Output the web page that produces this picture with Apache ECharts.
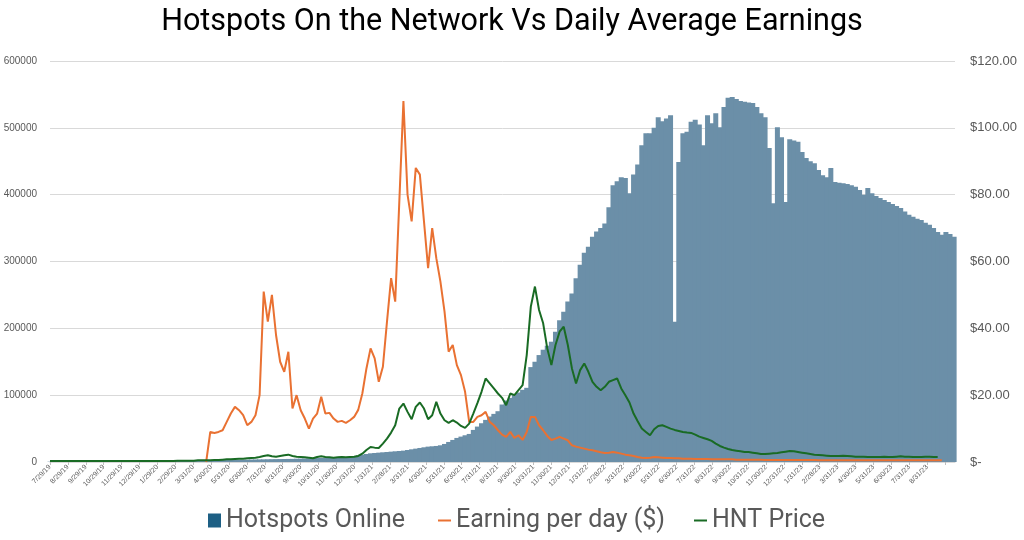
<!DOCTYPE html>
<html><head><meta charset="utf-8">
<script src="https://cdn.jsdelivr.net/npm/echarts@6/dist/echarts.min.js"></script>
<style>html,body{margin:0;padding:0;background:#fff}#c{width:1024px;height:540px}</style>
</head><body><div id="c"></div>
<script>
const chartTitle = 'Hotspots On the Network Vs Daily Average Earnings';
const seriesNames = ['Hotspots Online', 'Earning per day ($)', 'HNT Price'];
const tickLabels = ['7/29/19','8/29/19','9/29/19','10/29/19','11/29/19','12/29/19','1/29/20','2/29/20','3/31/20','4/30/20','5/31/20','6/30/20','7/31/20','8/31/20','9/30/20','10/31/20','11/30/20','12/31/20','1/31/21','2/28/21','3/31/21','4/30/21','5/31/21','6/30/21','7/31/21','8/31/21','9/30/21','10/31/21','11/30/21','12/31/21','1/31/22','2/28/22','3/31/22','4/30/22','5/31/22','6/30/22','7/31/22','8/31/22','9/30/22','10/31/22','11/30/22','12/31/22','1/31/23','2/28/23','3/31/23','4/30/23','5/31/23','6/30/23','7/31/23','8/31/23'];
const axisStart = '2019-07-29';
const stepDays = 7; // one sample per week

// Hotspots online (weekly), from 2019-07-29
const hotspotsStart = '2019-07-29';
const hotspots = [
  500,600,700,800,900, 1000,1000,1100,1100,1200, 1200,1300,1300,1400,1400, 1500,1500,1600,1600,1700,
  1700,1800,1800,1900,1900,2000,
  2000,2100,2100,2200,2200,2300,2400,2400,2500,2600,2700,2800,2900,
  3000,3000,3100,3100,3200,3200,3300,3400,3500,3600,3700,3800,3900,
  4000,4100,4200,4300,4400,4500,4600,4700,4900,5100,5300,5500,5700,5900,
  6000,6200,6400,6600,6800,7000,
  7500,8000,9000,10000,11000,12000,13000,
  13500,14000,14500,15000,15500,16000,16500,17000,18000,
  19000,20000,21000,22000,23000,23500,24000,25000,
  27000,30000,33000,36000,
  38000,40000,42000,
  48000,53000,58000,63000,
  68000,72000,76000,86000,
  92000,96000,100000,104000,108000,111000,
  142000,150000,160000,
  168000,174000,180000,195000,212000,
  225000,240000,252000,275000,295000,
  313000,322000,337000,345000,350000,357000,
  381000,414000,420000,426000,425000,402000,
  430000,445000,474000,492000,492000,500000,
  516000,510000,514000,519000,
  210000,
  449000,492000,494000,509000,512000,505000,
  474000,519000,507000,522000,501000,531000,
  545000,546000,543000,540000,539000,538000,
  537000,531000,522000,516000,470000,387000,501000,486000,389000,483000,
  481000,479000,464000,455000,450000,447000,437000,429000,426000,440000,
  419000,418000,417000,416000,414000,412000,407000,400000,410000,402000,
  398000,395000,392000,389000,386000,383000,380000,375000,370000,367000,
  364000,362000,358000,355000,350000,344000,340000,344000,341000,337000
];

// Earning per day ($), weekly, from 2020-04-20
const earningsStart = '2020-04-20';
const earnings = [
  0,
  9.0,8.7,9.0,9.5,12.0,14.5,16.5,15.5,14.0,11.0,12.0,14.0,
  20.0,51.0,42.0,50.0,38.0,30.0,27.0,33.0,16.0,20.0,
  15.5,13.0,10.0,13.0,14.5,19.5,14.5,14.7,13.0,12.0,
  12.3,11.7,12.5,13.5,15.6,20.5,28.0,34.0,31.0,24.0,
  28.5,42.0,55.0,48.0,78.0,108.0,80.0,72.0,88.0,86.0,
  72.0,58.0,70.0,61.0,54.0,45.0,33.0,35.0,29.0,26.0,
  21.0,12.0,12.0,13.5,14.0,15.0,12.0,11.0,9.5,8.2,
  7.5,9.0,7.2,8.0,6.6,9.0,13.5,13.5,11.0,9.5,
  7.8,6.6,7.0,7.5,7.0,6.5,5.0,4.6,4.3,4.0,
  3.7,3.5,3.2,2.9,2.7,2.8,3.0,2.8,2.5,2.2,
  2.0,1.8,1.5,1.3,1.2,1.3,1.5,1.4,1.3,1.2,1.2,
  1.1,1.1,1.0,1.0,1.0,0.9,0.9,0.9,0.9,0.8,
  0.8,0.8,0.8,0.8,0.8,0.7,0.7,0.7,0.7,0.7,
  0.7,0.7,0.6,0.6,0.6,0.6,0.6,0.6,0.6,0.6,
  0.6,0.6,0.6,0.6,0.6,0.5,0.5,0.5,0.5,0.5,
  0.5,0.5,0.5,0.5,0.5,0.5,0.5,0.5,0.5,0.5,
  0.5,0.5,0.5,0.5,0.5,0.5,0.5,0.5,0.5,0.5,
  0.5,0.5,0.5,0.5,0.5,0.5
];

// HNT price ($), weekly, from 2019-07-29
const hntStart = '2019-07-29';
const hntPrice = [
  0.3,0.3,0.3,0.3,0.3,0.3,0.3,0.3,0.3,0.3,0.3,0.3,0.3,0.3,0.3,0.3,0.3,0.3,0.3,0.3,
  0.3,0.3,0.3,0.3,0.3,0.3,0.3,0.3,0.3,0.3,0.3,0.4,0.4,0.4,0.4,0.4,0.5,0.5,0.5,
  0.5,0.6,0.6,0.7,0.8,0.8,0.9,1.0,1.0,1.1,1.2,1.3,
  1.5,1.8,2.0,1.7,1.6,1.8,2.0,
  2.2,
  1.8,1.6,1.5,1.4,1.3,1.1,1.5,
  1.7,1.5,1.4,1.3,1.4,1.5,1.4,1.5,1.6,1.8,2.5,
  3.6,4.5,4.3,4.2,5.5,7.0,8.8,11.0,16.0,17.5,
  15.0,12.8,16.5,17.8,16.0,12.8,14.0,18.0,14.5,12.5,
  11.7,12.5,11.8,10.8,10.2,11.5,14.5,17.6,21.0,25.0,
  23.5,22.0,20.5,19.2,17.0,20.5,20.0,21.5,23.0,32.0,
  46.5,52.5,45.5,41.5,34.0,29.0,35.0,39.0,40.5,35.0,
  28.0,23.5,27.5,29.5,27.0,24.0,22.5,21.5,22.5,24.0,
  24.5,25.0,22.0,20.0,17.8,14.5,12.2,10.0,9.0,8.0,
  9.8,10.8,11.0,10.5,10.0,
  9.6,9.3,9.0,8.8,8.7,8.2,7.6,7.2,6.8,6.3,
  5.5,4.8,4.3,3.9,3.6,3.4,3.2,3.0,3.0,2.8,
  2.6,2.4,2.4,2.5,2.6,2.7,2.9,3.1,3.3,3.2,
  3.0,2.8,2.6,2.4,2.2,2.1,2.0,1.9,1.8,1.8,
  1.8,1.9,1.8,1.7,1.6,1.6,1.6,1.5,1.5,1.5,
  1.5,1.6,1.5,1.5,1.6,1.7,1.6,1.6,1.5,1.5,
  1.5,1.6,1.6,1.5,1.5
];

const DAY = 86400000;
function utc(s){ const p = s.split('-').map(Number); return Date.UTC(p[0], p[1]-1, p[2]); }
const daysPerLabel = (utc('2023-08-31') - utc(axisStart)) / DAY / (tickLabels.length - 1);
function toPairs(start, values){
  const off = (utc(start) - utc(axisStart)) / DAY;
  return values.map((v, i) => [off + i * stepDays, v]);
}

const chart = echarts.init(document.getElementById('c'));
const legendText = { fontSize: 25, color: '#595959', fontFamily: 'Roboto' };
chart.setOption({
  animation: false,
  backgroundColor: '#fff',
  title: {
    text: chartTitle, left: 'center', top: 2,
    textStyle: { fontSize: 30.5, fontWeight: 'normal', color: '#000', fontFamily: 'Roboto' }
  },
  legend: [
    { left: 203, top: 503, icon: 'rect', itemWidth: 13, itemHeight: 14, itemGap: 0,
      textStyle: legendText, data: [{ name: seriesNames[0], itemStyle: { color: '#1d5f84' } }] },
    { left: 433, top: 503, icon: 'rect', itemWidth: 13, itemHeight: 2, itemGap: 0,
      textStyle: legendText, data: [seriesNames[1]] },
    { left: 689, top: 503, icon: 'rect', itemWidth: 13, itemHeight: 2, itemGap: 0,
      textStyle: legendText, data: [seriesNames[2]] }
  ],
  grid: { left: 50, right: 69, top: 61, bottom: 78, containLabel: false, outerBoundsMode: 'none' },
  xAxis: {
    type: 'value', min: 0, max: 1541.5, interval: daysPerLabel,
    axisLine: { show: true, lineStyle: { color: '#d9d9d9' } },
    axisTick: { show: true, length: 3, lineStyle: { color: '#bfbfbf' } },
    splitLine: { show: false },
    axisLabel: {
      rotate: 45, fontSize: 7, color: '#595959', margin: 4, fontFamily: 'Liberation Sans',
      showMaxLabel: false,
      formatter: v => {
        const i = Math.round(v / daysPerLabel);
        if (Math.abs(i * daysPerLabel - v) > 0.5) return '';
        return tickLabels[i] || '';
      }
    }
  },
  yAxis: [
    { type: 'value', min: 0, max: 600000, interval: 100000,
      axisLine: { show: false }, axisTick: { show: false },
      splitLine: { lineStyle: { color: '#d9d9d9' } },
      axisLabel: { fontSize: 10, color: '#595959', margin: 13, fontFamily: 'Liberation Sans',
        formatter: v => String(v) } },
    { type: 'value', min: 0, max: 120, interval: 20, position: 'right',
      axisLine: { show: false }, axisTick: { show: false }, splitLine: { show: false },
      axisLabel: { fontSize: 13, color: '#595959', margin: 15, fontFamily: 'Liberation Sans',
        formatter: v => v === 0 ? '$-' : '$' + v.toFixed(2) } }
  ],
  series: [
    { name: seriesNames[0], type: 'bar', yAxisIndex: 0, barWidth: 5, barGap: '-100%',
      itemStyle: { color: '#6b8fa8' }, data: toPairs(hotspotsStart, hotspots) },
    { name: seriesNames[1], type: 'line', yAxisIndex: 1, showSymbol: false,
      lineStyle: { width: 2, color: '#E97132' }, itemStyle: { color: '#E97132' },
      data: toPairs(earningsStart, earnings) },
    { name: seriesNames[2], type: 'line', yAxisIndex: 1, showSymbol: false,
      lineStyle: { width: 2, color: '#196B24' }, itemStyle: { color: '#196B24' },
      data: toPairs(hntStart, hntPrice) }
  ]
});
</script>
</body></html>
